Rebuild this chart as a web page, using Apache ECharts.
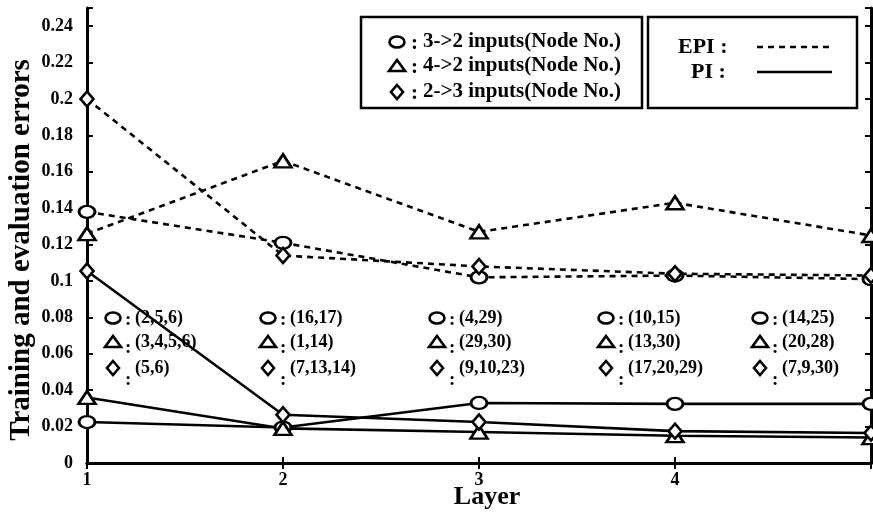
<!DOCTYPE html>
<html><head><meta charset="utf-8">
<script src="https://cdn.jsdelivr.net/npm/echarts@6/dist/echarts.min.js"></script>
<style>html,body{margin:0;padding:0;background:#fff}#c{width:873px;height:517px}</style>
</head><body><div id="c"></div>
<script>
// ---- data ----
const layers = [1, 2, 3, 4, 5];
const epiCircle   = [0.138, 0.121, 0.102, 0.103, 0.101];
const epiTriangle = [0.126, 0.166, 0.127, 0.143, 0.125];
const epiDiamond  = [0.200, 0.114, 0.108, 0.104, 0.103];
const piCircle    = [0.0225, 0.0195, 0.033, 0.0325, 0.0325];
const piTriangle  = [0.036, 0.019, 0.017, 0.015, 0.014];
const piDiamond   = [0.1055, 0.0265, 0.0225, 0.0175, 0.0165];
const nodesCircle   = ['(2,5,6)', '(16,17)', '(4,29)', '(10,15)', '(14,25)'];
const nodesTriangle = ['(3,4,5,6)', '(1,14)', '(29,30)', '(13,30)', '(20,28)'];
const nodesDiamond  = ['(5,6)', '(7,13,14)', '(9,10,23)', '(17,20,29)', '(7,9,30)'];
const legendLabels = ['3->2 inputs(Node No.)', '4->2 inputs(Node No.)', '2->3 inputs(Node No.)'];
const styleLabels = ['EPI :', 'PI :'];
const yTitle = 'Training and evaluation errors';
const xTitle = 'Layer';

// ---- rendering ----
const FONT = '"Liberation Serif", "Times New Roman", serif';
const ELLIPSE = 'path://M0,6A8,6 0 1,1 16,6A8,6 0 1,1 0,6Z';
const shapes = {
  circle:   {symbol: ELLIPSE, size: [16, 12]},
  triangle: {symbol: 'triangle', size: [17, 13]},
  diamond:  {symbol: 'diamond', size: [13, 15]}
};
function mk(name, arr, shape, dashed) {
  return {
    name, type: 'line', data: layers.map((x, i) => [x, arr[i]]),
    symbol: shapes[shape].symbol, symbolSize: shapes[shape].size,
    showAllSymbol: true, clip: false,
    lineStyle: {color: '#000', width: 2.6, type: dashed ? [6, 5] : 'solid'},
    itemStyle: {color: '#fff', borderColor: '#000', borderWidth: 2.6},
    emphasis: {disabled: true}, z: 3
  };
}
const axisLineStyle = {color: '#000', width: 3};
const labelFont = {color: '#000', fontFamily: FONT, fontWeight: 'bold', fontSize: 18};

const graphic = [];
graphic.push({type: 'text', x: 22, y: 250, rotation: Math.PI / 2, z: 50,
  style: {text: yTitle, font: 'bold 29px ' + FONT, fill: '#000', align: 'center', verticalAlign: 'middle'}});
graphic.push({type: 'text', x: 487, y: 497, z: 50,
  style: {text: xTitle, font: 'bold 26px ' + FONT, fill: '#000', align: 'center', verticalAlign: 'middle'}});
graphic.push({type: 'rect', z: 40, shape: {x: 361, y: 17, width: 281, height: 91}, style: {fill: '#fff', stroke: '#000', lineWidth: 2.5}});
graphic.push({type: 'rect', z: 40, shape: {x: 648, y: 17, width: 209, height: 91}, style: {fill: '#fff', stroke: '#000', lineWidth: 2.5}});

function symbolGraphic(kind, cx, cy) {
  const st = {fill: '#fff', stroke: '#000', lineWidth: 2.6};
  if (kind === 'circle') return {type: 'ellipse', z: 45, shape: {cx, cy, rx: 7.5, ry: 5.5}, style: st};
  if (kind === 'triangle') return {type: 'polygon', z: 45, shape: {points: [[cx - 8, cy + 5], [cx + 8, cy + 5], [cx, cy - 6]]}, style: st};
  return {type: 'polygon', z: 45, shape: {points: [[cx, cy - 7], [cx + 6, cy], [cx, cy + 7], [cx - 6, cy]]}, style: st};
}
const kinds = ['circle', 'triangle', 'diamond'];
const legY = [42, 66, 92];
kinds.forEach((k, i) => {
  graphic.push(symbolGraphic(k, 397, legY[i]));
  graphic.push({type: 'text', z: 45, x: 411, y: legY[i] + 2, style: {text: ':', font: 'bold 21px ' + FONT, fill: '#000', align: 'left', verticalAlign: 'middle'}});
  graphic.push({type: 'text', z: 45, x: 423, y: legY[i], style: {text: legendLabels[i], font: 'bold 21px ' + FONT, fill: '#000', align: 'left', verticalAlign: 'middle'}});
});
graphic.push({type: 'text', z: 45, x: 678, y: 47, style: {text: styleLabels[0], font: 'bold 22px ' + FONT, fill: '#000', align: 'left', verticalAlign: 'middle'}});
graphic.push({type: 'text', z: 45, x: 691, y: 72, style: {text: styleLabels[1], font: 'bold 22px ' + FONT, fill: '#000', align: 'left', verticalAlign: 'middle'}});
graphic.push({type: 'line', z: 45, shape: {x1: 757, y1: 47, x2: 830, y2: 47}, style: {stroke: '#000', lineWidth: 2.5, lineDash: [6, 5]}});
graphic.push({type: 'line', z: 45, shape: {x1: 757, y1: 72, x2: 832, y2: 72}, style: {stroke: '#000', lineWidth: 2.5}});

const colX = [113, 268, 437, 606, 760];
const rowY = [318, 342, 368];
const colonOff = [2, 6, 12];
const tables = [nodesCircle, nodesTriangle, nodesDiamond];
kinds.forEach((k, r) => {
  colX.forEach((cx, c) => {
    graphic.push(symbolGraphic(k, cx, rowY[r]));
    graphic.push({type: 'text', z: 45, x: cx + 12, y: rowY[r] + colonOff[r], style: {text: ':', font: 'bold 19px ' + FONT, fill: '#000', align: 'left', verticalAlign: 'middle'}});
    graphic.push({type: 'text', z: 45, x: cx + 22, y: rowY[r], style: {text: tables[r][c], font: 'bold 18px ' + FONT, fill: '#000', align: 'left', verticalAlign: 'middle'}});
  });
});

const chart = echarts.init(document.getElementById('c'), null, {renderer: 'canvas'});
chart.setOption({
  animation: false,
  backgroundColor: '#fff',
  grid: {left: 87, right: 2, top: 8, bottom: 54, containLabel: false},
  xAxis: [
    {type: 'value', min: 1, max: 5, interval: 1, position: 'bottom',
     axisLine: {lineStyle: axisLineStyle}, axisTick: {inside: true, length: 6, lineStyle: {width: 2, color: '#000'}},
     axisLabel: Object.assign({showMaxLabel: false, margin: 8}, labelFont), splitLine: {show: false}},
    {type: 'value', min: 1, max: 5, interval: 1, position: 'top',
     axisLine: {lineStyle: axisLineStyle}, axisTick: {inside: true, length: 6, lineStyle: {width: 2, color: '#000'}},
     axisLabel: {show: false}, splitLine: {show: false}}
  ],
  yAxis: [
    {type: 'value', min: 0, max: 0.25, interval: 0.02, position: 'left',
     axisLine: {show: true, lineStyle: axisLineStyle}, axisTick: {show: true, inside: true, length: 6, lineStyle: {width: 2, color: '#000'}},
     axisLabel: Object.assign({margin: 14, formatter: v => v > 0.245 ? '' : String(+v.toFixed(2))}, labelFont),
     splitLine: {show: false}},
    {type: 'value', min: 0, max: 0.25, interval: 0.02, position: 'right',
     axisLine: {show: true, lineStyle: axisLineStyle}, axisTick: {show: true, inside: true, length: 6, lineStyle: {width: 2, color: '#000'}},
     axisLabel: {show: false}, splitLine: {show: false}}
  ],
  series: [
    mk('EPI 3->2', epiCircle, 'circle', true),
    mk('EPI 4->2', epiTriangle, 'triangle', true),
    mk('EPI 2->3', epiDiamond, 'diamond', true),
    mk('PI 3->2', piCircle, 'circle', false),
    mk('PI 4->2', piTriangle, 'triangle', false),
    mk('PI 2->3', piDiamond, 'diamond', false)
  ],
  graphic: graphic
});
</script></body></html>
